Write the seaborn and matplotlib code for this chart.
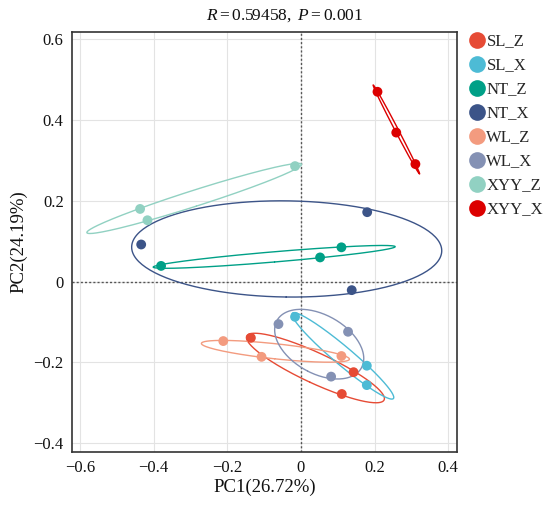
import numpy as np
import pandas as pd
import matplotlib
matplotlib.use("Agg")
import matplotlib.pyplot as plt
import seaborn as sns

# 组别与配色
groups = ["SL_Z", "SL_X", "NT_Z", "NT_X", "WL_Z", "WL_X", "XYY_Z", "XYY_X"]
colors = ["#E64B35", "#4DBBD5", "#00A087", "#3C5488",
          "#F39B7F", "#8491B4", "#91D1C2", "#DC0000"]

# 每组三个样本的 PC1 / PC2 坐标
pc1_SL_Z = [-0.136, 0.143, 0.111]
pc2_SL_Z = [-0.139, -0.224, -0.278]
pc1_SL_X = [-0.016, 0.179, 0.179]
pc2_SL_X = [-0.087, -0.208, -0.256]
pc1_NT_Z = [0.110, 0.052, -0.380]
pc2_NT_Z = [0.085, 0.060, 0.039]
pc1_NT_X = [0.180, -0.434, 0.138]
pc2_NT_X = [0.172, 0.092, -0.021]
pc1_WL_Z = [-0.211, -0.107, 0.110]
pc2_WL_Z = [-0.147, -0.186, -0.184]
pc1_WL_X = [-0.061, 0.128, 0.082]
pc2_WL_X = [-0.105, -0.124, -0.235]
pc1_XYY_Z = [-0.016, -0.437, -0.417]
pc2_XYY_Z = [0.286, 0.180, 0.152]
pc1_XYY_X = [0.208, 0.259, 0.311]
pc2_XYY_X = [0.470, 0.369, 0.291]

pc1 = [pc1_SL_Z, pc1_SL_X, pc1_NT_Z, pc1_NT_X, pc1_WL_Z, pc1_WL_X, pc1_XYY_Z, pc1_XYY_X]
pc2 = [pc2_SL_Z, pc2_SL_X, pc2_NT_Z, pc2_NT_X, pc2_WL_Z, pc2_WL_X, pc2_XYY_Z, pc2_XYY_X]

df = pd.DataFrame({
    "PC1": np.concatenate(pc1),
    "PC2": np.concatenate(pc2),
    "group": np.repeat(groups, 3),
})

sns.set_style("white")
plt.rcParams["font.family"] = ["Liberation Serif", "DejaVu Serif"]
plt.rcParams["mathtext.fontset"] = "custom"
plt.rcParams["mathtext.rm"] = "Liberation Serif"
plt.rcParams["mathtext.it"] = "Liberation Serif:italic"

fig = plt.figure(figsize=(5.5, 5.05), dpi=100)
ax = fig.add_axes([0.1309, 0.1050, 0.700, 0.8317])

# 网格和零线
ax.set_axisbelow(True)
ax.grid(True, color="#E3E3E3", linewidth=0.8)
ax.axhline(0, color="#555555", linestyle=(0, (1.5, 1.5)), linewidth=1.0, zorder=1)
ax.axvline(0, color="#555555", linestyle=(0, (1.5, 1.5)), linewidth=1.0, zorder=1)

# 置信椭圆 (由每组样本协方差计算)
t = np.linspace(0, 2 * np.pi, 200)
scale = 1.228
for g, c in zip(groups, colors):
    sub = df[df["group"] == g]
    xy = sub[["PC1", "PC2"]].to_numpy()
    mu = xy.mean(axis=0)
    cov = np.cov(xy.T)
    vals, vecs = np.linalg.eigh(cov)
    circ = np.vstack([np.cos(t), np.sin(t)])
    pts = (vecs @ np.diag(np.sqrt(np.clip(vals, 0, None))) @ circ) * scale
    ax.plot(pts[0] + mu[0], pts[1] + mu[1], color=c, linewidth=1.0, zorder=2)

sns.scatterplot(data=df, x="PC1", y="PC2", hue="group", hue_order=groups,
                palette=colors, s=50, edgecolor="none", ax=ax, zorder=3)

ax.set_xlim(-0.622, 0.424)
ax.set_ylim(-0.4215, 0.618)
ax.set_xticks([-0.6, -0.4, -0.2, 0, 0.2, 0.4])
ax.set_xticklabels(["\u22120.6", "\u22120.4", "\u22120.2", "0", "0.2", "0.4"])
ax.set_yticks([-0.4, -0.2, 0, 0.2, 0.4, 0.6])
ax.set_yticklabels(["\u22120.4", "\u22120.2", "0", "0.2", "0.4", "0.6"])
ax.tick_params(axis="both", which="both", direction="out", length=4, width=1,
               color="#333333", labelsize=12, labelcolor="#111111", pad=2)
for sp in ax.spines.values():
    sp.set_color("#333333")
    sp.set_linewidth(1.2)

ax.set_xlabel("PC1(26.72%)", fontsize=13.5, color="#111111", labelpad=2)
ax.set_ylabel("PC2(24.19%)", fontsize=13.5, color="#111111", labelpad=4)

fig.text(0.518, 0.970, r"$R = 0.59458,\ P = 0.001$", ha="center", va="center",
         fontsize=12.5, color="#111111")

handles, labels = ax.get_legend_handles_labels()
leg = ax.legend(handles, labels, loc="upper left", bbox_to_anchor=(1.005, 1.02),
                frameon=False, fontsize=12, markerscale=1.7, handletextpad=0.05,
                handlelength=1.0, labelspacing=0.48, borderaxespad=0.2)

fig.savefig("out.png", dpi=100)
